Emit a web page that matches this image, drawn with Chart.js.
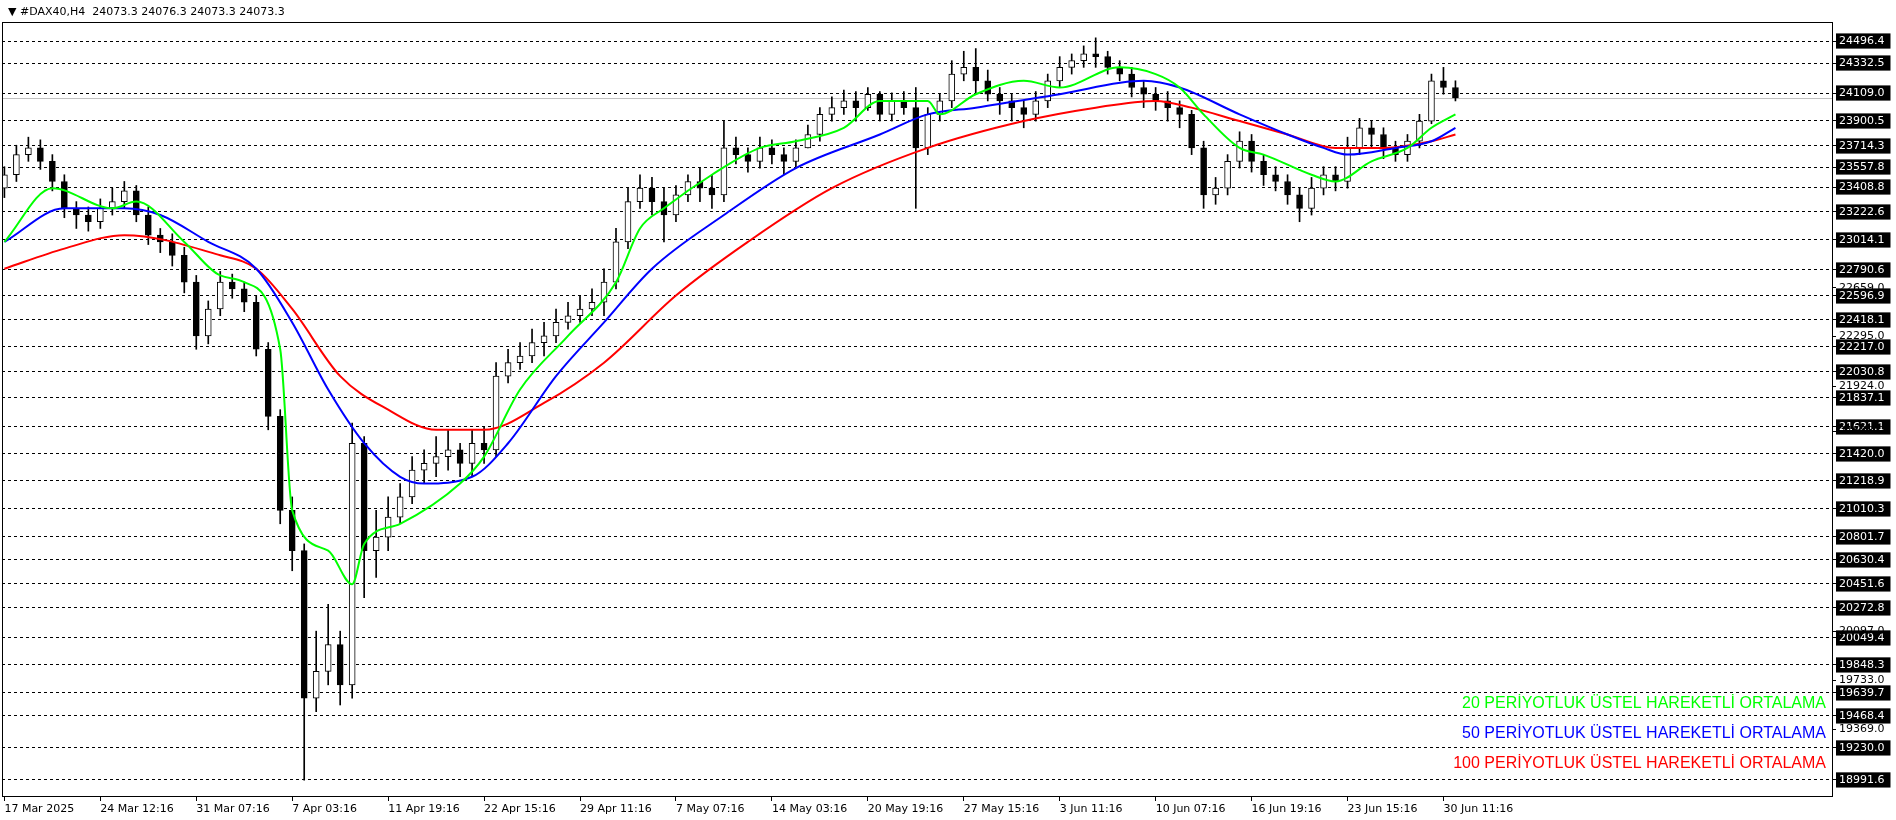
<!DOCTYPE html>
<html>
<head>
<meta charset="utf-8">
<script src="https://cdn.jsdelivr.net/npm/chart.js@4.4.1/dist/chart.umd.min.js"></script>
<style>
  body { margin: 0; background: #fff; }
  canvas { display: block; }
</style>
</head>
<body>
<canvas id="chart" width="1896" height="820"></canvas>
<script>
// candle data (H4)
const opens  = [23400,23500,23650,23700,23600,23450,23250,23200,23150,23250,23300,23380,23200,23050,23000,22900,22700,22300,22500,22700,22650,22550,22200,21700,21000,20700,19600,19800,20000,19700,21500,20700,20800,20950,21100,21300,21350,21400,21450,21350,21500,21450,22000,22100,22150,22250,22300,22400,22450,22500,22550,22700,23000,23300,23400,23300,23200,23350,23450,23400,23350,23700,23650,23600,23700,23650,23600,23700,23800,23950,24000,24050,24000,24100,23950,24050,24000,23700,23950,24050,24250,24300,24200,24100,24050,24000,23950,24050,24200,24300,24350,24400,24380,24300,24250,24150,24100,24050,24000,23950,23700,23350,23400,23600,23750,23600,23500,23450,23350,23250,23400,23500,23450,23700,23850,23800,23700,23650,23750,23900,24200,24150];
const closes = [23500,23650,23700,23600,23450,23250,23200,23150,23250,23300,23380,23200,23050,23000,22900,22700,22300,22500,22700,22650,22550,22200,21700,21000,20700,19600,19800,20000,19700,21500,20700,20800,20950,21100,21300,21350,21400,21450,21350,21500,21450,22000,22100,22150,22250,22300,22400,22450,22500,22550,22700,23000,23300,23400,23300,23200,23350,23450,23400,23350,23700,23650,23600,23700,23650,23600,23700,23800,23950,24000,24050,24000,24100,23950,24050,24000,23700,23950,24050,24250,24300,24200,24100,24050,24000,23950,24050,24200,24300,24350,24400,24380,24300,24250,24150,24100,24050,24000,23950,23700,23350,23400,23600,23750,23600,23500,23450,23350,23250,23400,23500,23450,23700,23850,23800,23700,23650,23750,23900,24200,24150,24073.3];
const highs  = [23560,23720,23780,23760,23650,23500,23300,23260,23320,23400,23450,23420,23260,23100,23060,22960,22750,22560,22780,22760,22700,22600,22250,21750,21100,20750,20100,20300,20100,21650,21550,21000,21100,21200,21400,21450,21550,21600,21500,21600,21620,22100,22200,22250,22350,22400,22500,22550,22600,22650,22800,23100,23400,23500,23480,23400,23420,23500,23550,23500,23900,23780,23700,23780,23760,23700,23760,23870,24000,24080,24130,24120,24150,24120,24110,24120,24150,24000,24100,24350,24420,24440,24280,24150,24100,24050,24120,24250,24380,24400,24460,24520,24420,24350,24300,24200,24150,24120,24050,23980,23750,23480,23650,23820,23800,23650,23560,23500,23400,23480,23560,23560,23780,23920,23900,23850,23750,23800,23950,24250,24300,24200];
const lows   = [23330,23450,23600,23540,23380,23180,23100,23080,23100,23200,23250,23150,22980,22920,22820,22620,22200,22240,22450,22580,22480,22150,21600,20900,20550,18990,19500,19700,19550,19600,20350,20500,20700,20900,21050,21200,21250,21300,21250,21250,21350,21400,21950,22050,22100,22150,22250,22350,22400,22450,22450,22650,22950,23250,23200,23000,23150,23300,23300,23250,23300,23580,23520,23550,23580,23500,23550,23700,23750,23900,23950,23900,23980,23900,23900,23950,23250,23650,23900,24000,24200,24100,24050,23950,23900,23850,23900,24000,24150,24250,24300,24300,24250,24200,24080,24000,23980,23900,23850,23650,23250,23280,23350,23550,23520,23420,23380,23280,23150,23200,23350,23380,23400,23650,23700,23620,23600,23600,23700,23880,24100,24050];

// moving averages, sampled at candle indexes
const ema20x = [0,4,9,11,15,18,20,23,24,27,29,30,33,38,40,43,47,51,53,55,59,63,66,70,73,77,78,81,85,88,93,96,98,100,103,105,109,111,114,117,119,121];
const ema20y = [23000,23400,23250,23300,23000,22750,22700,22200,21000,20700,20450,20750,20900,21200,21400,21900,22300,22700,23100,23250,23500,23700,23750,23850,24050,24050,23950,24100,24200,24150,24300,24250,24150,23950,23700,23650,23500,23450,23600,23700,23850,23950];
const ema50x = [0,5,10,13,17,21,24,27,30,33,35,39,42,46,50,54,60,66,73,77,81,88,95,98,103,107,110,112,116,119,121];
const ema50y = [23000,23250,23250,23200,23000,22800,22400,21900,21500,21250,21200,21250,21500,22000,22400,22800,23200,23550,23800,23950,24000,24100,24200,24150,23950,23800,23700,23650,23700,23750,23850];
const ema100x = [0,5,10,18,21,24,28,32,36,40,45,50,56,62,69,77,85,91,96,99,103,107,111,115,119,121];
const ema100y = [22800,22950,23050,22900,22800,22500,22000,21750,21600,21600,21800,22100,22600,23000,23400,23700,23900,24000,24050,24000,23900,23800,23700,23700,23750,23800];

const timeTicks = [0,8,16,24,32,40,48,56,64,72,80,88,96,104,112,120];
const timeLabels = ["17 Mar 2025","24 Mar 12:16","31 Mar 07:16","7 Apr 03:16","11 Apr 19:16","22 Apr 15:16","29 Apr 11:16","7 May 07:16","14 May 03:16","20 May 19:16","27 May 15:16","3 Jun 11:16","10 Jun 07:16","16 Jun 19:16","23 Jun 15:16","30 Jun 11:16"];
const priceTicks = [24496.4,24332.5,24109.0,23900.5,23714.3,23557.8,23408.8,23222.6,23014.1,22790.6,22596.9,22418.1,22217.0,22030.8,21837.1,21621.1,21420.0,21218.9,21010.3,20801.7,20630.4,20451.6,20272.8,20049.4,19848.3,19639.7,19468.4,19230.0,18991.6];
const minorTicks = [22659.0,22295.0,21924.0,21588.0,20097.0,19733.0,19369.0];
const lastPrice = 24073.3;
const maNames = ["20 PERİYOTLUK ÜSTEL HAREKETLİ ORTALAMA","50 PERİYOTLUK ÜSTEL HAREKETLİ ORTALAMA","100 PERİYOTLUK ÜSTEL HAREKETLİ ORTALAMA"];
const maColors = ["#00ff00","#0000ff","#ff0000"];

const wicks = opens.map((o, i) => ({ x: i, y: [lows[i], highs[i]] }));
const bodies = opens.map((o, i) => ({ x: i, y: [o, closes[i]] }));
const up = opens.map((o, i) => closes[i] >= o);
const toPts = (xs, ys) => xs.map((x, i) => ({ x: x, y: ys[i] }));
const isMinor = v => minorTicks.includes(v);

const overlay = {
  id: "overlay",
  beforeDatasetsDraw(chart) {
    const ctx = chart.ctx, a = chart.chartArea, y = chart.scales.y;
    const py = Math.round(y.getPixelForValue(lastPrice)) + 0.5;
    ctx.save();
    ctx.strokeStyle = "#c0c0c0";
    ctx.lineWidth = 1;
    ctx.beginPath(); ctx.moveTo(a.left, py); ctx.lineTo(a.right, py); ctx.stroke();
    ctx.restore();
  },
  afterDraw(chart) {
    const ctx = chart.ctx, a = chart.chartArea;
    ctx.save();
    ctx.strokeStyle = "#000";
    ctx.lineWidth = 1;
    ctx.strokeRect(a.left + 0.5, a.top + 0.5, a.right - a.left, a.bottom - a.top);
    ctx.font = "11px 'DejaVu Sans'";
    ctx.fillStyle = "#000";
    ctx.textBaseline = "middle";
    ctx.fillText("\u25BC #DAX40,H4  24073.3 24076.3 24073.3 24073.3", 8, 12);
    ctx.font = "16px 'Liberation Sans'";
    ctx.textAlign = "right";
    maNames.forEach((t, i) => {
      ctx.fillStyle = maColors[i];
      ctx.fillText(t, a.right - 6, 704 + i * 30);
    });
    ctx.restore();
  }
};

new Chart(document.getElementById("chart"), {
  type: "bar",
  data: {
    datasets: [
      { type: "line", data: toPts(ema100x, ema100y), borderColor: "#ff0000", borderWidth: 2, pointRadius: 0, tension: 0.4, cubicInterpolationMode: "monotone", order: 3 },
      { type: "line", data: toPts(ema50x, ema50y), borderColor: "#0000ff", borderWidth: 2, pointRadius: 0, tension: 0.4, cubicInterpolationMode: "monotone", order: 2 },
      { type: "line", data: toPts(ema20x, ema20y), borderColor: "#00ff00", borderWidth: 2, pointRadius: 0, tension: 0.4, cubicInterpolationMode: "monotone", order: 1 },
      { data: wicks, backgroundColor: "#000", barThickness: 1, grouped: false, order: 5 },
      { data: bodies, backgroundColor: up.map(u => u ? "#fff" : "#000"), borderColor: "#000", borderWidth: 1, borderSkipped: false, barThickness: 6, grouped: false, order: 4 }
    ]
  },
  options: {
    responsive: false,
    animation: false,
    layout: { padding: { top: 22, left: 2, right: 0, bottom: 0 } },
    plugins: { legend: { display: false }, tooltip: { enabled: false } },
    scales: {
      x: {
        type: "linear", min: -0.2, max: 152.4, offset: false,
        afterBuildTicks: s => { s.ticks = timeTicks.map(v => ({ value: v })); },
        afterFit: s => { s.height = 24; },
        ticks: {
          autoSkip: false, maxRotation: 0, align: "start", padding: 2,
          color: "#000", font: { family: "DejaVu Sans", size: 11 },
          callback: (v) => timeLabels[timeTicks.indexOf(v)]
        },
        grid: { drawOnChartArea: false, drawTicks: true, tickLength: 5, color: "#000", offset: false },
        border: { color: "#000" }
      },
      y: {
        position: "right", min: 18872, max: 24638,
        afterBuildTicks: s => { s.ticks = priceTicks.concat(minorTicks).map(v => ({ value: v })); },
        afterFit: s => { s.width = 64; },
        ticks: {
          autoSkip: false, padding: 3,
          color: c => isMinor(c.tick.value) ? "#000" : "#fff",
          showLabelBackdrop: true,
          backdropColor: c => isMinor(c.tick.value) ? "rgba(0,0,0,0)" : "#000",
          backdropPadding: { top: 1, bottom: 1, left: 3, right: 6 },
          font: { family: "DejaVu Sans", size: 11 },
          callback: v => v.toFixed(1)
        },
        grid: {
          color: c => c.tick && isMinor(c.tick.value) ? "rgba(0,0,0,0)" : "#000",
          tickColor: "#000", tickLength: 4, lineWidth: 1
        },
        border: { color: "#000", dash: [3, 3] }
      }
    }
  },
  plugins: [overlay]
});
</script>
</body>
</html>
